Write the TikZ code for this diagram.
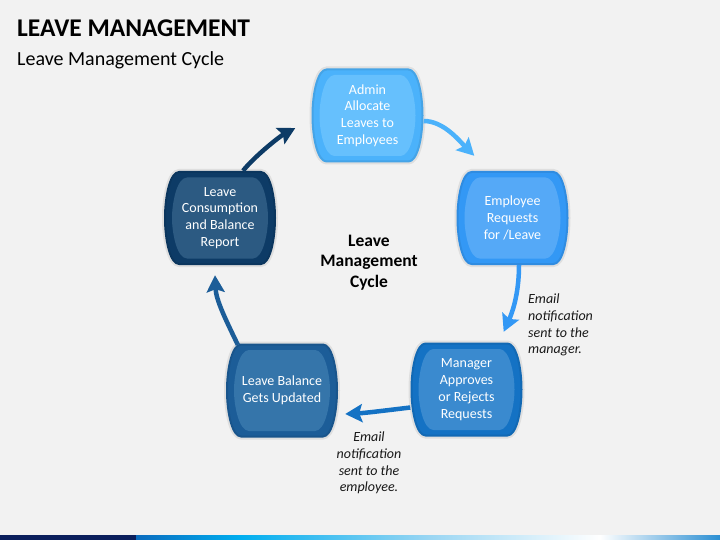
\documentclass[tikz,border=0pt]{standalone}
\usepackage{fontspec}
\setmainfont{Carlito}
\usepackage{tikz}
\usetikzlibrary{arrows.meta,positioning}

\definecolor{bg}{HTML}{F2F2F2}
\definecolor{admo}{HTML}{4BB2FB}
\definecolor{admi}{HTML}{66C0FD}
\definecolor{empo}{HTML}{3398F5}
\definecolor{empi}{HTML}{55A9F7}
\definecolor{mgro}{HTML}{1472C4}
\definecolor{mgri}{HTML}{3A8ACF}
\definecolor{balo}{HTML}{1C5D98}
\definecolor{bali}{HTML}{3575AA}
\definecolor{repo}{HTML}{0D3B66}
\definecolor{repi}{HTML}{2C5A82}
\definecolor{navy}{HTML}{0B1F5C}
\definecolor{barA}{HTML}{0A6BBE}
\definecolor{barB}{HTML}{00AEEF}
\definecolor{barC}{HTML}{9AD6F3}
\definecolor{barD}{HTML}{2B8FD3}

\begin{document}
\begin{tikzpicture}[x=1pt,y=-1pt,
    barrel/.style 2 args={insert path={(-#1+15,-#2) -- (#1-15,-#2)
        .. controls (#1-5,-#2) and (#1,-#2+25) .. (#1,0)
        .. controls (#1,#2-25) and (#1-5,#2) .. (#1-15,#2)
        -- (-#1+15,#2)
        .. controls (-#1+5,#2) and (-#1,#2-25) .. (-#1,0)
        .. controls (-#1,-#2+25) and (-#1+5,-#2) .. (-#1+15,-#2) -- cycle}},
    box/.style={minimum width=112pt,minimum height=94pt,inner sep=0pt,
        text=white,align=center,font=\fontsize{14}{16.8}\selectfont},
    note/.style={inner sep=0pt,text=black!90,font=\fontsize{14}{16.7}\selectfont\itshape},
    cycarrow/.style={line width=4.5pt,-{Stealth[length=17pt,width=18pt,inset=3pt]}}]

  % background and bottom strip
  \fill[bg] (0,0) rectangle (720,540);
  \useasboundingbox (0,0) rectangle (720,540);
  \fill[navy] (0,535) rectangle (136,540);
  \shade[left color=barA,right color=barB] (136,535) rectangle (240,540);
  \shade[left color=barB,right color=barC] (240,535) rectangle (430,540);
  \shade[left color=barC,right color=white] (430,535) rectangle (600,540);
  \shade[left color=white,right color=barD] (600,535) rectangle (720,540);

  % titles
  \node[anchor=base west,inner sep=0pt,font=\fontsize{25.5}{30}\selectfont\bfseries]
    (title) at (17,36.7) {LEAVE MANAGEMENT};
  \node[anchor=base west,inner sep=0pt,font=\fontsize{20}{24}\selectfont]
    (subtitle) at (17,66) {Leave Management Cycle};

  % the five steps
  \foreach \n/\x/\y/\o/\i/\t in {
      adm/367.5/115.5/admo/admi/{Admin\\Allocate\\Leaves to\\Employees},
      emp/512.5/218/empo/empi/{Employee\\Requests\\for /Leave},
      mgr/466.5/389.5/mgro/mgri/{Manager\\Approves\\or Rejects\\Requests},
      bal/282/390.5/balo/bali/{Leave Balance\\Gets Updated},
      rep/220/218/repo/repi/{Leave\\Consumption\\and Balance\\Report}}
  {
    \begin{scope}[shift={(\x,\y)}]
      \draw[black,draw opacity=0.08,line width=4pt,fill=\o] [barrel={56}{47}];
      \fill[\i] [barrel={48}{40.5}];
    \end{scope}
    \node[box] (\n) at (\x,\y) {\t};
  }

  \node[align=center,inner sep=0pt,font=\fontsize{17.5}{20.5}\selectfont\bfseries]
    (cycle) at (369,262.5) {Leave\\Management\\Cycle};

  % arrows
  \draw[cycarrow,admo] ([yshift=-5.5pt]adm.east)
    .. controls +(20,0) and +(-15,-15) .. ([xshift=18pt,yshift=15pt]emp.north west);
  \draw[cycarrow,empo] ([xshift=6.5pt]emp.south)
    .. controls +(0,30) and +(8,-18) .. ([xshift=-19pt,yshift=10.5pt]mgr.north east);
  \draw[cycarrow,mgro] ([yshift=-18pt]mgr.west)
    .. controls +(-25,3) and +(20,-1) .. ([xshift=7pt,yshift=-23.5pt]bal.east);
  \draw[cycarrow,balo] ([xshift=12pt,yshift=-1.5pt]bal.north west)
    .. controls +(-12,-25) and +(1,25) .. ([xshift=-5pt,yshift=-10pt]rep.south);
  \draw[cycarrow,repo] ([xshift=23pt]rep.north)
    .. controls +(12,-15) and +(-15,8) .. ([xshift=-16pt,yshift=-12.5pt]adm.west);

  % notes
  \node[note,anchor=west,align=left] (mgrnote) at (528,325)
    {Email\\notification\\sent to the\\manager.};
  \node[note,align=center] (empnote) at (369,463)
    {Email\\notification\\sent to the\\employee.};
\end{tikzpicture}
\end{document}
